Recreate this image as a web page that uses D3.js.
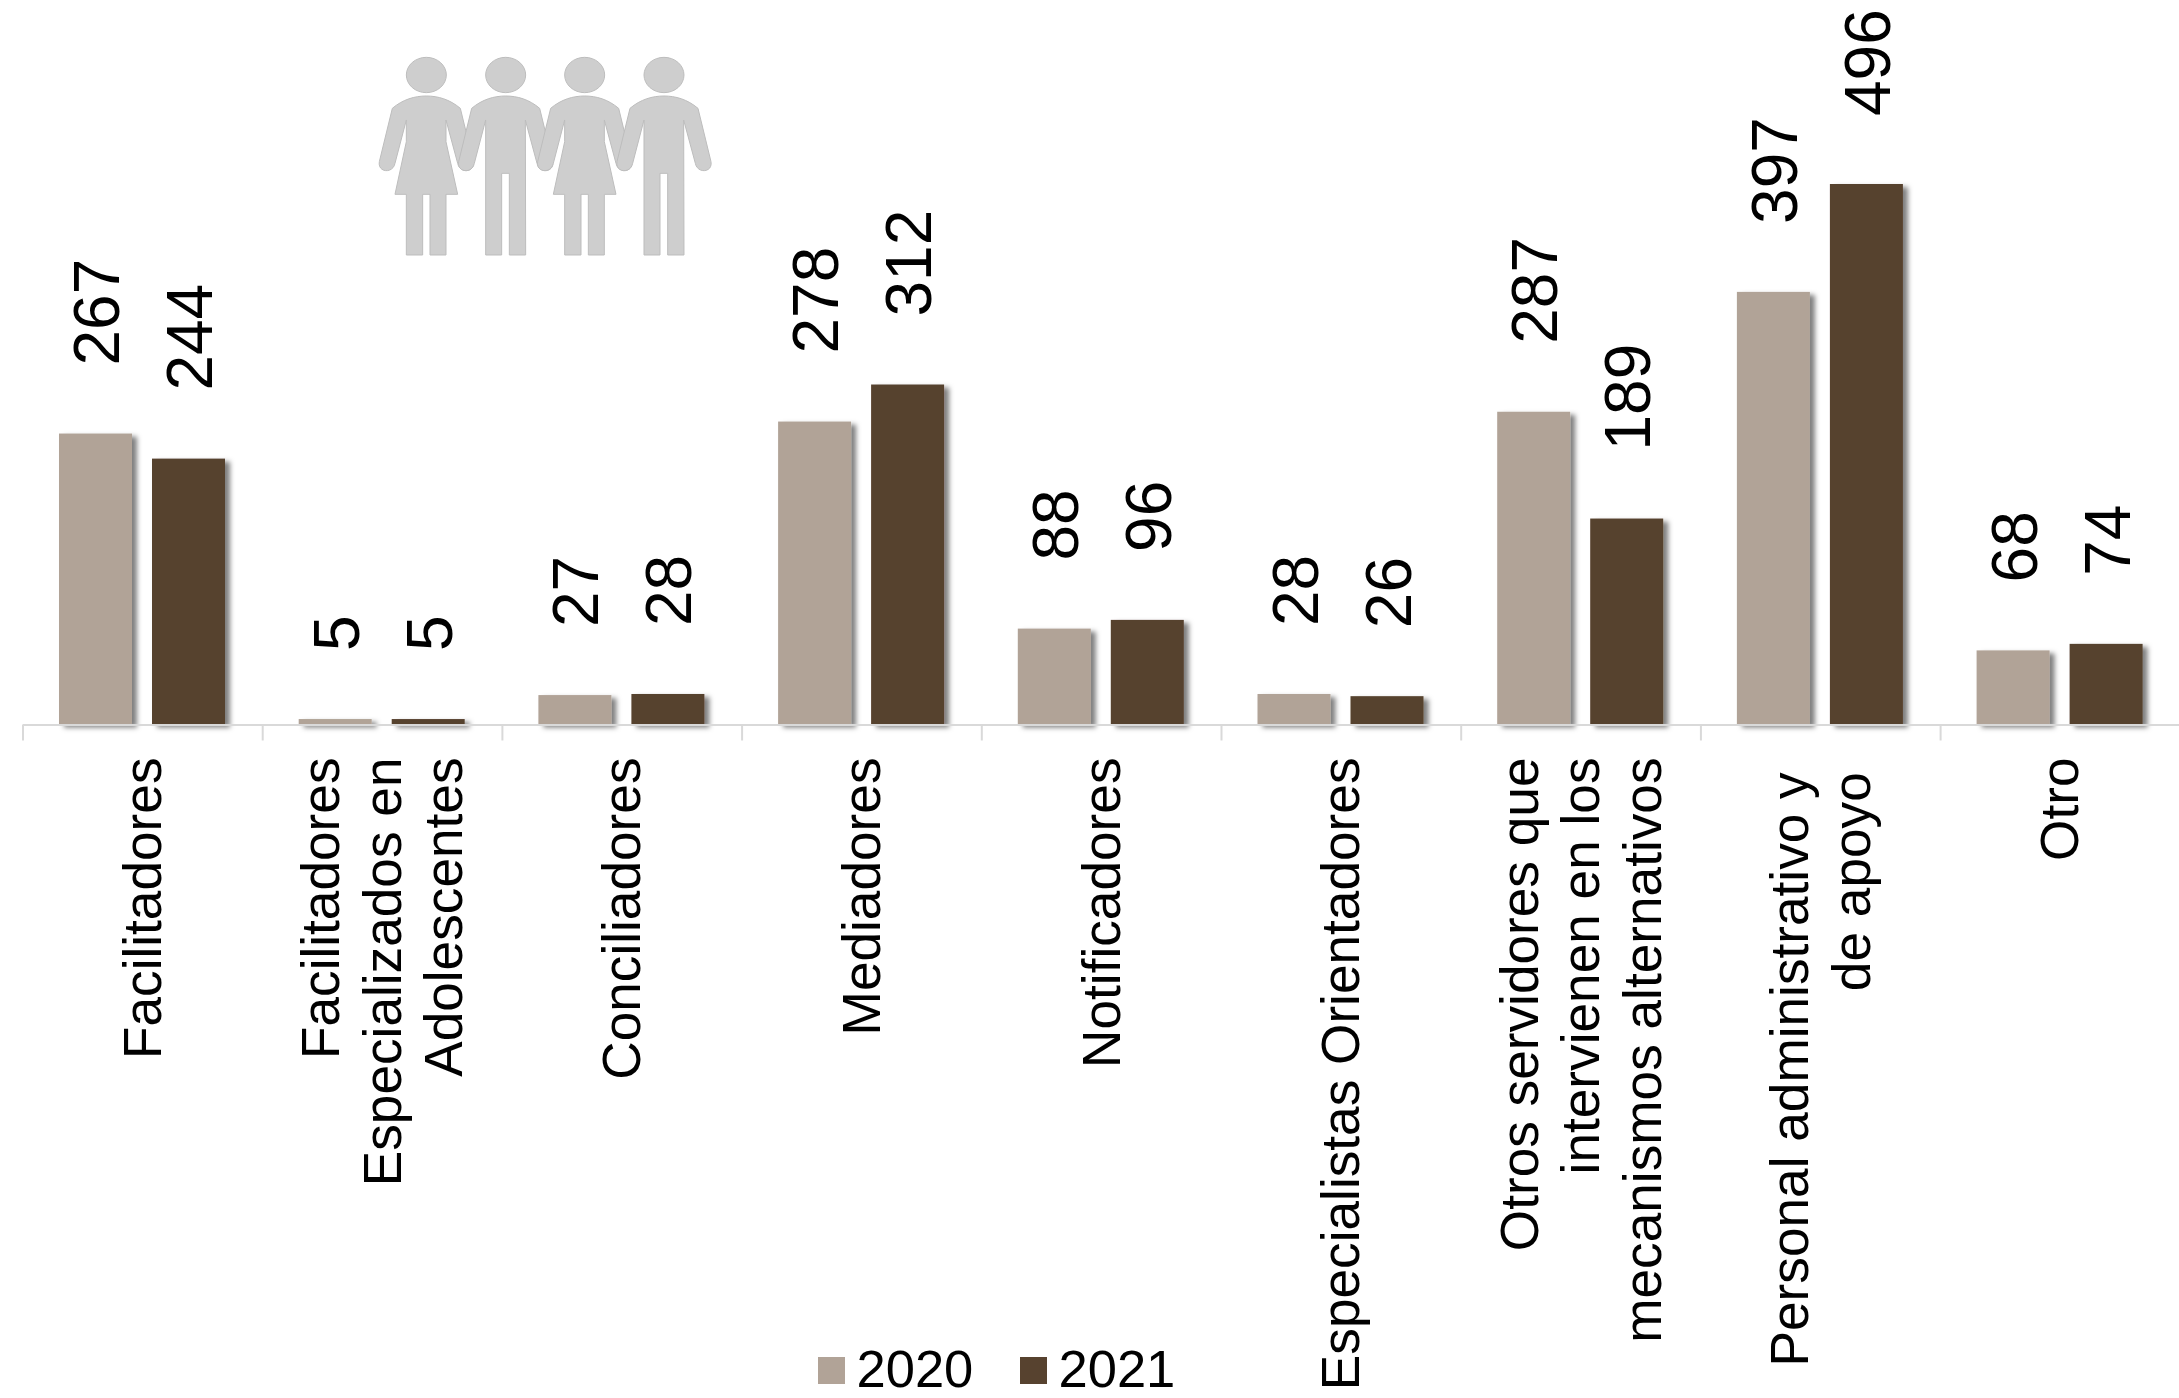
<!DOCTYPE html>
<html><head><meta charset="utf-8">
<script src="https://cdn.jsdelivr.net/npm/d3@7"></script>
<style>
html,body{margin:0;padding:0;background:#fff}
svg{display:block}
text{font-family:"Liberation Sans",Arial,sans-serif;fill:#000;white-space:pre}
</style></head><body>
<svg id="c" width="2179" height="1398"></svg>
<script>
const categories = [
  ["Facilitadores"],
  ["Facilitadores","Especializados en","Adolescentes"],
  ["Conciliadores"],
  ["Mediadores"],
  ["Notificadores"],
  ["Especialistas Orientadores"],
  ["Otros servidores que","intervienen en los","mecanismos alternativos"],
  ["Personal administrativo y ","de apoyo "],
  ["Otro"]
];
const seriesNames = ["2020","2021"];
const values2020 = [267,5,27,278,88,28,287,397,68];
const values2021 = [244,5,28,312,96,26,189,496,74];
const colors = ["#B1A397","#57422F"];

const W=2179,H=1398, axisY=724.5, x0=22.5, step=239.7;
const svg=d3.select("#c");
const defs=svg.append("defs");
const f=defs.append("filter").attr("id","sh").attr("x","-20%").attr("y","-20%").attr("width","150%").attr("height","140%");
f.append("feDropShadow").attr("dx",5).attr("dy",3).attr("stdDeviation",2.8).attr("flood-color","#000").attr("flood-opacity",0.5);

const idx=d3.range(categories.length);
const xBand=d3.scaleBand().domain(idx).range([x0,x0+step*idx.length]).paddingInner(0).paddingOuter(0);
const bandPad=36.5, barW=73, barGap=20;
const xSeries=d3.scaleOrdinal().domain([0,1]).range([bandPad,bandPad+barW+barGap]);
const y=d3.scaleLinear().domain([0,496]).range([axisY,axisY-540.5]);
const series=[values2020,values2021];

// bars
series.forEach((vals,s)=>{
  svg.append("g").attr("filter","url(#sh)").selectAll("rect").data(vals).join("rect")
    .attr("x",(d,i)=>xBand(i)+xSeries(s)).attr("width",barW)
    .attr("y",d=>y(d)).attr("height",d=>axisY-y(d)).attr("fill",colors[s]);
});

// axis
const xEdge=d3.scaleLinear().domain([0,idx.length]).range([x0,x0+step*idx.length]);
const ax=svg.append("g").attr("transform",`translate(0,${axisY})`)
  .call(d3.axisBottom(xEdge).tickValues(d3.range(idx.length+1)).tickSize(16).tickSizeOuter(0).tickFormat(""));
ax.selectAll("path,line").attr("stroke","#d9d9d9").attr("stroke-width",2);

// data labels
const labelGap=68;
series.forEach((vals,s)=>{
  svg.append("g").selectAll("text").data(vals).join("text")
    .attr("transform",(d,i)=>`translate(${xBand(i)+xSeries(s)+barW/2+23.5},${y(d)-labelGap}) rotate(-90)`)
    .attr("font-size",64).text(d=>d);
});

// category labels
const catTop=757.5, lineH=61.5;
const cg=svg.append("g").selectAll("g").data(categories).join("g");
cg.each(function(lines,i){
  const cx=xBand(i)+xBand.bandwidth()/2;
  d3.select(this).selectAll("text").data(lines).join("text")
    .attr("transform",(l,j)=>`translate(${cx+(j-(lines.length-1)/2)*lineH+18.5},${catTop}) rotate(-90)`)
    .attr("text-anchor","end").attr("font-size",53.2).text(l=>l);
});

// legend
const leg=svg.append("g");
const legX=[818,1020];
seriesNames.forEach((n,s)=>{
  leg.append("rect").attr("x",legX[s]).attr("y",1357).attr("width",27).attr("height",27).attr("fill",colors[s]);
  leg.append("text").attr("x",legX[s]+38.5).attr("y",1387).attr("font-size",52.5).text(n);
});

// pictogram
const upper=()=>`M-102,105 C-70,78 -35,68 0,68 C35,68 70,78 102,105 L141,265 C147,298 100,302 94,270 L59,140`;
const woman=upper()+` L59,205 L94,363 L59,363 L59,545 L11,545 L11,363 L-11,363 L-11,545 L-60,545 L-60,363 L-94,363 L-60,205 L-60,140 L-94,270 C-100,302 -147,298 -141,265 Z`;
const man=upper()+` L60,545 L11,545 L11,300 L-12,300 L-12,545 L-60,545 L-60,140 L-94,270 C-100,302 -147,298 -141,265 Z`;
const figures=[[259,woman],[497,man],[734,woman],[972,man]];
const pic=svg.append("g").attr("transform","translate(340,30) scale(0.33333)");
figures.forEach(([cx,d])=>{
  const g=pic.append("g").attr("transform",`translate(${cx},130)`).attr("fill","#cecece").attr("stroke","#bdbdbd").attr("stroke-width",3);
  g.append("path").attr("d",d);
  g.append("ellipse").attr("cx",0).attr("cy",5).attr("rx",60).attr("ry",53);
});
</script>
</body></html>
